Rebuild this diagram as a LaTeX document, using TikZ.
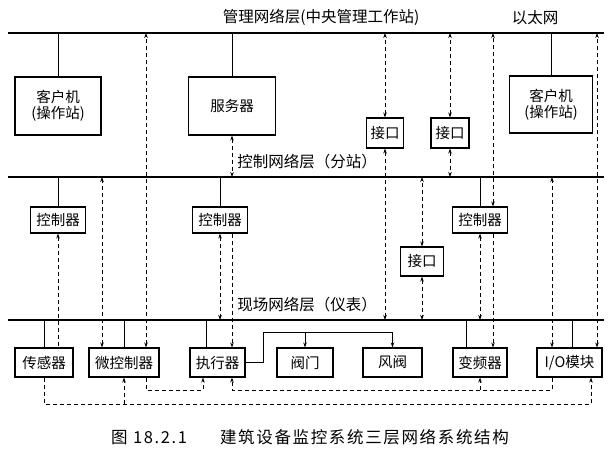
\documentclass[tikz,border=0pt]{standalone}
\usepackage{fontspec}
\setmainfont{Noto Sans CJK SC}
\newfontfamily\capfont[LetterSpace=10]{Noto Sans CJK SC}
\usepackage{tikz}
\usetikzlibrary{arrows.meta}

\tikzset{
  unit/.style={draw, line width=1.1pt, inner sep=0pt, align=center,
    font=\fontsize{14.5}{16}\selectfont},
  title/.style={inner sep=0pt, font=\fontsize{15.5}{18}\selectfont},
  bus/.style={line width=1.5pt},
  wire/.style={line width=0.8pt},
  sig/.style={line width=0.8pt, dash pattern=on 4pt off 3pt}
}

\begin{document}
\begin{tikzpicture}[x=1pt, y=-1pt, >={Stealth[length=5pt,width=3.5pt]}]
  \useasboundingbox (0,0) rectangle (609,460);

  % three network layers
  \foreach \n/\y in {m/33, c/177, f/320} {
    \coordinate (\n L) at (8,\y);
    \coordinate (\n R) at (604,\y);
    \draw[bus] (\n L) -- (\n R);
  }
  \coordinate (lowA) at (8,390);
  \coordinate (lowB) at (8,404);

  \node[title] (tM) at (321,17) {管理网络层(中央管理工作站)};
  \node[title] (tEth) at (535,18) {以太网};
  \node[title] (tC) at (307,162) {控制网络层（分站）};
  \node[title] (tF) at (307,305) {现场网络层（仪表）};

  % management layer
  \node[unit, minimum width=86pt, minimum height=58pt] (host1) at (58,106) {客户机\\(操作站)};
  \node[unit, minimum width=87pt, minimum height=58pt] (server) at (232,106) {服务器};
  \node[unit, minimum width=37pt, minimum height=30pt] (port1) at (385,133) {接口};
  \node[unit, minimum width=38pt, minimum height=30pt] (port2) at (450,133) {接口};
  \node[unit, minimum width=83pt, minimum height=57pt] (host2) at (551,104.5) {客户机\\(操作站)};

  % control layer
  \foreach \nm/\x in {ctrl1/58, ctrl2/220, ctrl3/480} {
    \node[unit, minimum width=55pt, minimum height=26pt] (\nm) at (\x,220) {控制器};
  }
  \node[unit, minimum width=43pt, minimum height=29pt] (port3) at (422,261.5) {接口};

  % field layer
  \foreach \nm/\x/\w/\t in {sensor/44/58/传感器, mcu/124/70/微控制器, act/217.5/55/执行器,
      valve/305/56/阀门, damper/392.5/59/风阀, vfd/480/54/变频器, io/569.5/65/{I/O模块}} {
    \node[unit, minimum width=\w pt, minimum height=29pt] (\nm) at (\x,362.5) {\t};
  }

  % taps onto the buses
  \foreach \nd/\b in {host1/mL, server/mL, host2/mL, ctrl1/cL, ctrl2/cL, ctrl3/cL, sensor/fL, mcu/fL}
    \draw[wire] (\nd.north) -- (\nd.north |- \b);
  \draw[wire] ([xshift=-11.5pt]act.north) -- ([xshift=-11.5pt]act.north |- fL);
  \draw[wire] ([xshift=-14pt]vfd.north) -- ([xshift=-14pt]vfd.north |- fL);
  \draw[wire] ([xshift=2.5pt]io.north) -- ([xshift=2.5pt]io.north |- fL);
  \draw[wire,->] (act.east) -- ++(18,0) |- ([yshift=15pt]damper.north) -- (damper.north);
  \draw[wire,->] ([yshift=15pt]valve.north) -- (valve.north);

  % signal paths
  \draw[sig,<->] ([xshift=22pt]mcu.north) -- ([xshift=22pt]mcu.north |- mL);
  \draw[sig,<->] (port1.north) -- (port1.north |- mL);
  \draw[sig,<->] (port1.south) -- (port1.south |- fL);
  \draw[sig,<->] (port2.north) -- (port2.north |- mL);
  \draw[sig,<->] (port2.south) -- (port2.south |- cL);
  \draw[sig,<->] ([xshift=13pt]ctrl3.north) -- ([xshift=13pt]ctrl3.north |- mL);
  \draw[sig,->] ([xshift=13pt]ctrl3.south) -- ([xshift=13pt]vfd.north);
  \draw[sig,<->] ([xshift=27.5pt]io.north) -- ([xshift=27.5pt]io.north |- mL);
  \draw[sig,<->] (server.south) -- (server.south |- cL);
  \draw[sig,<->] ([xshift=-22pt]mcu.north) -- ([xshift=-22pt]mcu.north |- cL);
  \draw[sig,<-] (ctrl1.south) -- (ctrl1.south |- sensor.north);
  \draw[sig,<->] (ctrl2.south) -- (ctrl2.south |- fL);
  \draw[sig,->] ([xshift=12pt]ctrl2.south) -- ([xshift=12pt]ctrl2.south |- act.north);
  \draw[sig,<->] (port3.north) -- (port3.north |- cL);
  \draw[sig,<->] (port3.south) -- (port3.south |- fL);
  \draw[sig,<->] (ctrl3.south) -- (ctrl3.south |- fL);
  \draw[sig,<->] ([xshift=-17.5pt]io.north) -- ([xshift=-17.5pt]io.north |- cL);

  % loops below the field devices
  \draw[sig,->] ([xshift=22pt]mcu.south) -- ([xshift=22pt]mcu.south |- lowA) -| ([xshift=-14.5pt]act.south);
  \draw[sig,->] ([xshift=-17.5pt]io.south) |- ([xshift=14.5pt]act.south |- lowA) -- ([xshift=14.5pt]act.south);
  \draw[sig,->] (vfd.south |- lowA) -- (vfd.south);
  \draw[sig,->] (sensor.south) |- ([xshift=21.5pt]io.south |- lowB) -- ([xshift=21.5pt]io.south);
  \draw[sig,->] (mcu.south |- lowB) -- (mcu.south);

  \node[inner sep=0pt, font=\fontsize{16.5}{19}\capfont] (cap) at (310,437)
    {图 18.2.1\qquad 建筑设备监控系统三层网络系统结构};
\end{tikzpicture}
\end{document}
